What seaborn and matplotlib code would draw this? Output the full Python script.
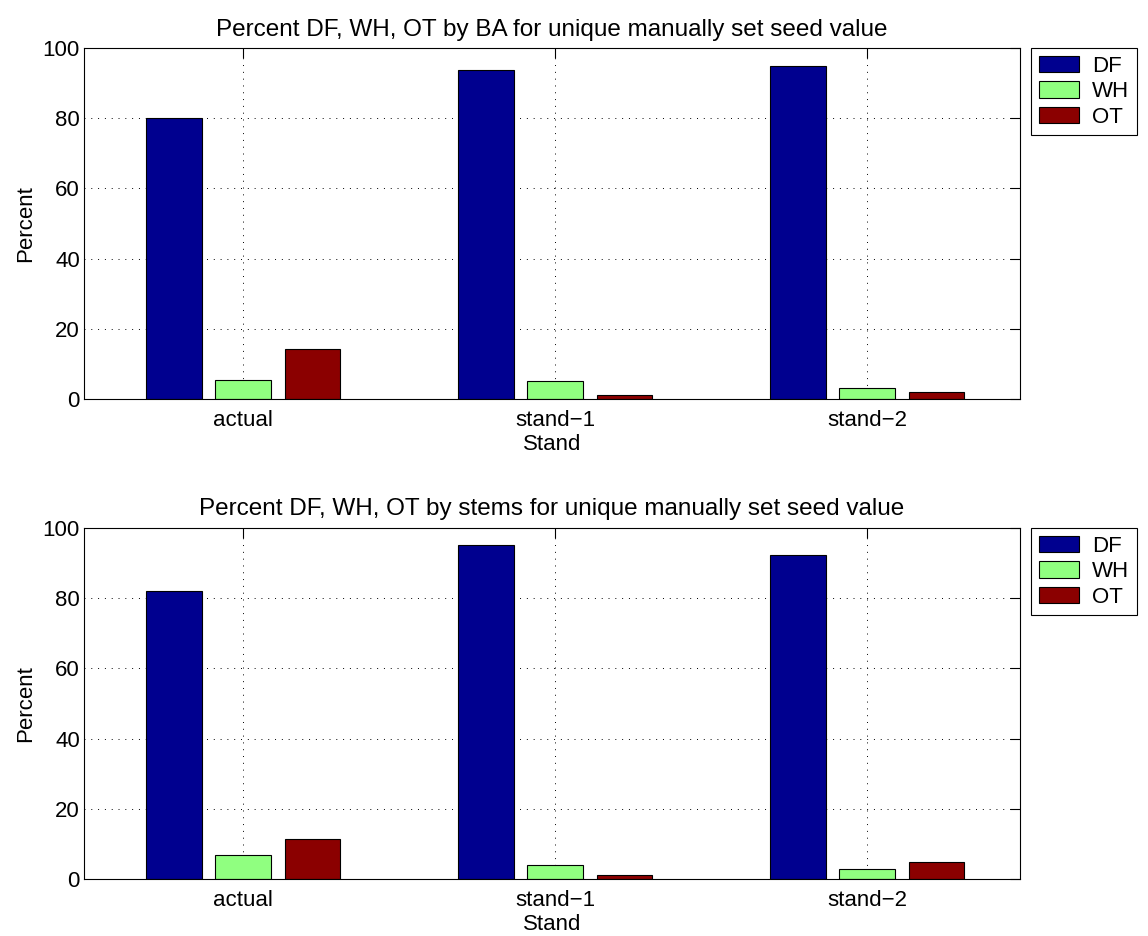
import matplotlib
matplotlib.use("Agg")
import matplotlib.pyplot as plt
import seaborn as sns
import pandas as pd

stands = ["actual", "stand\u22121", "stand\u22122"]
species = ["DF", "WH", "OT"]
ba_df = [80.0, 93.7, 94.9]
ba_wh = [5.5, 5.1, 3.1]
ba_ot = [14.3, 1.1, 2.0]
st_df = [82.0, 95.2, 92.2]
st_wh = [6.7, 3.9, 2.9]
st_ot = [11.3, 1.0, 4.8]
titles = ["Percent DF, WH, OT by BA for unique manually set seed value",
          "Percent DF, WH, OT by stems for unique manually set seed value"]
colors = ["#00008F", "#90FF80", "#8B0000"]

sns.set_style("white")
plt.rcParams['font.family'] = ['Liberation Sans', 'DejaVu Sans']
plt.rcParams['text.color'] = 'black'
plt.rcParams['axes.labelcolor'] = 'black'
plt.rcParams['xtick.color'] = 'black'
plt.rcParams['ytick.color'] = 'black'

FS = 16

def make_df(a, b, c):
    rows = []
    for i, s in enumerate(stands):
        for sp, vals in zip(species, [a, b, c]):
            rows.append({"Stand": s, "Species": sp, "Percent": vals[i]})
    return pd.DataFrame(rows)

fig = plt.figure(figsize=(11.48, 9.36), dpi=100)
positions = [[0.0732, 0.5737, 0.8153, 0.375], [0.0732, 0.0609, 0.8153, 0.375]]
datasets = [make_df(ba_df, ba_wh, ba_ot), make_df(st_df, st_wh, st_ot)]

for pos, data, title in zip(positions, datasets, titles):
    ax = fig.add_axes(pos)
    sns.barplot(data=data, x="Stand", y="Percent", hue="Species", palette=colors,
                width=0.667, gap=0.2, edgecolor="black", linewidth=0.8, ax=ax,
                errorbar=None, saturation=1)
    ax.set_xlim(-0.51, 2.49)
    ax.set_ylim(0, 100)
    ax.set_yticks([0, 20, 40, 60, 80, 100])
    ax.grid(True, linestyle=(0, (1, 6)), color="black", linewidth=0.7)
    ax.set_axisbelow(True)
    ax.tick_params(direction="in", top=True, right=True, labelsize=FS, length=7, width=0.8,
                   colors="black")
    ax.tick_params(axis="y", pad=3)
    ax.tick_params(axis="x", pad=8)
    for sp in ax.spines.values():
        sp.set_color("black")
        sp.set_linewidth(0.8)
    ax.set_title(title, fontsize=17.5, pad=9, color="black")
    ax.set_xlabel("Stand", fontsize=FS, labelpad=2)
    ax.set_ylabel("Percent", fontsize=FS, labelpad=5)
    leg = ax.legend(loc="upper left", bbox_to_anchor=(1.012, 1.0), fontsize=FS,
                    frameon=True, fancybox=False, edgecolor="black", framealpha=1,
                    handlelength=1.8, handleheight=0.75, borderaxespad=0, labelspacing=0.2,
                    handletextpad=0.6, borderpad=0.35)
    leg.get_frame().set_linewidth(0.8)

fig.savefig("out.png", dpi=100)
